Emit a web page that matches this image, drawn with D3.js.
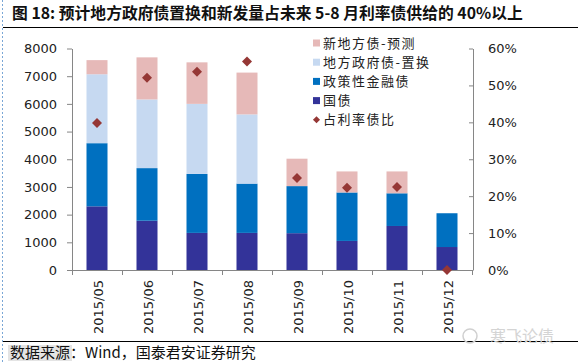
<!DOCTYPE html>
<html>
<head>
<meta charset="utf-8">
<script src="https://cdn.jsdelivr.net/npm/d3@7"></script>
<style>
  body { margin: 0; background: #fff; }
  svg { display: block; }
</style>
</head>
<body>
<div id="chart"></div>
<script>
// values (亿元 / %)
const months = ["2015/05", "2015/06", "2015/07", "2015/08", "2015/09", "2015/10", "2015/11", "2015/12"];
const guozhai = [2300, 1780, 1340, 1340, 1330, 1050, 1590, 830];
const zhengce = [2280, 1900, 2130, 1780, 1700, 1750, 1180, 1220];
const zhihuan = [2490, 2480, 2530, 2500, 0, 0, 0, 0];
const xinfa = [510, 1520, 1500, 1510, 990, 760, 790, 0];
const ratio = [39.8, 52.1, 53.7, 56.5, 24.9, 22.3, 22.5, 0];
const leftTicks = [0, 1000, 2000, 3000, 4000, 5000, 6000, 7000, 8000];
const rightTicks = [0, 10, 20, 30, 40, 50, 60];

const seriesKeys = ["guozhai", "zhengce", "zhihuan", "xinfa"];
const seriesColor = { guozhai: "#333399", zhengce: "#0070C0", zhihuan: "#C6D9F1", xinfa: "#E6B9B8" };
const legendItems = [
  { name: "新地方债-预测", color: seriesColor.xinfa },
  { name: "地方政府债-置换", color: seriesColor.zhihuan },
  { name: "政策性金融债", color: seriesColor.zhengce },
  { name: "国债", color: seriesColor.guozhai }
];

const W = 578, H = 364;
const plot = { left: 72, right: 472, top: 48.5, bottom: 270 };
const axisColor = "#868686";
const cjk = "'Noto Sans CJK SC', sans-serif";

const rows = months.map((m, i) => ({
  month: m, guozhai: guozhai[i], zhengce: zhengce[i], zhihuan: zhihuan[i], xinfa: xinfa[i], ratio: ratio[i]
}));

const svg = d3.select("#chart").append("svg")
  .attr("width", W).attr("height", H);
svg.append("rect").attr("width", W).attr("height", H).attr("fill", "#fff");

// dashed frame edge on the left
svg.append("line")
  .attr("x1", 2.5).attr("x2", 2.5).attr("y1", 0).attr("y2", H)
  .attr("stroke", "#7aa7d6").attr("stroke-dasharray", "2,2");

// title
svg.append("text")
  .attr("x", 12).attr("y", 19)
  .attr("font-family", cjk).attr("font-weight", "bold").attr("font-size", 15.8)
  .attr("fill", "#111")
  .text("图 18: 预计地方政府债置换和新发量占未来 5-8 月利率债供给的 40%以上");
svg.append("line")
  .attr("x1", 3).attr("x2", W).attr("y1", 27.5).attr("y2", 27.5)
  .attr("stroke", "#000").attr("stroke-width", 1.2);

// scales
const x = d3.scaleBand()
  .domain(months)
  .range([plot.left, plot.right])
  .paddingInner(0.58)
  .paddingOuter(0.29);
const y = d3.scaleLinear().domain([0, 8000]).range([plot.bottom, plot.top]);
const y2 = d3.scaleLinear().domain([0, 60]).range([plot.bottom, plot.top]);

// stacked bars
const stacked = d3.stack().keys(seriesKeys)(rows);
svg.append("g").selectAll("g")
  .data(stacked)
  .join("g")
  .attr("fill", d => seriesColor[d.key])
  .selectAll("rect")
  .data(d => d)
  .join("rect")
  .attr("x", d => x(d.data.month))
  .attr("y", d => y(d[1]))
  .attr("width", x.bandwidth())
  .attr("height", d => y(d[0]) - y(d[1]));

// left axis
const gl = svg.append("g")
  .attr("transform", `translate(${plot.left},0)`)
  .call(d3.axisLeft(y).tickValues(leftTicks).tickFormat(d3.format("d"))
    .tickSize(5).tickSizeOuter(0).tickPadding(10));
// right axis
const gr = svg.append("g")
  .attr("transform", `translate(${plot.right + 1},0)`)
  .call(d3.axisRight(y2).tickValues(rightTicks).tickSizeInner(-4).tickSizeOuter(0).tickPadding(15)
    .tickFormat(d => d + "%"));
[gl, gr].forEach(g => {
  g.select(".domain").attr("stroke", axisColor);
  g.selectAll(".tick line").attr("stroke", axisColor);
  g.selectAll(".tick text")
    .attr("font-family", "'DejaVu Sans', sans-serif")
    .attr("font-size", 13).attr("fill", "#222");
});

// bottom axis: baseline with ticks between categories
const gb = svg.append("g");
gb.append("line")
  .attr("x1", plot.left).attr("x2", plot.right + 1)
  .attr("y1", plot.bottom + 0.5).attr("y2", plot.bottom + 0.5)
  .attr("stroke", axisColor);
gb.selectAll(".sep")
  .data(d3.range(months.length + 1))
  .join("line")
  .attr("x1", i => plot.left + i * x.step() + 0.5)
  .attr("x2", i => plot.left + i * x.step() + 0.5)
  .attr("y1", plot.bottom).attr("y2", plot.bottom + 5)
  .attr("stroke", axisColor);
gb.selectAll(".lbl")
  .data(months)
  .join("text")
  .attr("transform", d => `translate(${x(d) + x.bandwidth() / 2 + 1},${plot.bottom + 10}) rotate(-90)`)
  .attr("text-anchor", "end")
  .attr("dy", "0.35em")
  .attr("font-family", "'DejaVu Sans', sans-serif")
  .attr("font-size", 13).attr("fill", "#222")
  .text(d => d);

// ratio diamonds
const diamond = d3.symbol().type(d3.symbolDiamond2).size(64);
svg.append("g").selectAll("path")
  .data(rows)
  .join("path")
  .attr("d", diamond)
  .attr("transform", d => `translate(${x(d.month) + x.bandwidth() / 2},${y2(d.ratio)})`)
  .attr("fill", "#953735");

// legend
const lg = svg.append("g").attr("transform", "translate(313,43)");
legendItems.forEach((item, i) => {
  const row = lg.append("g").attr("transform", `translate(0,${i * 19.2})`);
  row.append("rect").attr("x", 0).attr("y", -3.5).attr("width", 7).attr("height", 7).attr("fill", item.color);
  row.append("text")
    .attr("x", 10).attr("dy", "0.36em")
    .attr("font-family", cjk).attr("font-size", 13).attr("letter-spacing", 1.5)
    .attr("fill", "#222")
    .text(item.name);
});
const lrow = lg.append("g").attr("transform", `translate(0,${4 * 19.2})`);
lrow.append("path")
  .attr("d", d3.symbol().type(d3.symbolDiamond2).size(32))
  .attr("transform", "translate(3.5,0)")
  .attr("fill", "#953735");
lrow.append("text")
  .attr("x", 10).attr("dy", "0.36em")
  .attr("font-family", cjk).attr("font-size", 13).attr("letter-spacing", 1.5)
  .attr("fill", "#222")
  .text("占利率债比");

// footer
svg.append("line")
  .attr("x1", 3).attr("x2", W).attr("y1", 341.5).attr("y2", 341.5)
  .attr("stroke", "#000").attr("stroke-width", 1.2);
svg.append("rect")
  .attr("x", 8).attr("y", 345).attr("width", 64).attr("height", 16)
  .attr("fill", "#e4e4e4");
svg.append("text")
  .attr("x", 10).attr("y", 358)
  .attr("font-family", cjk).attr("font-size", 15).attr("fill", "#111")
  .text("数据来源：Wind，国泰君安证券研究");

// watermark
svg.append("circle")
  .attr("cx", 470).attr("cy", 336).attr("r", 7)
  .attr("fill", "none").attr("stroke", "#d0d0d0").attr("stroke-width", 1.5);
svg.append("text")
  .attr("x", 490).attr("y", 342)
  .attr("font-family", cjk).attr("font-size", 16).attr("fill", "#d4d4d4")
  .text("寒飞论债");
</script>
</body>
</html>
